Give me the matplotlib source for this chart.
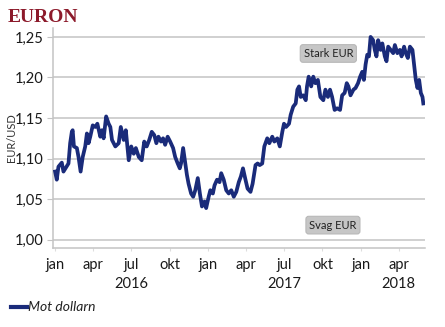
import numpy as np
import pandas as pd
import matplotlib
matplotlib.use('Agg')
import matplotlib.pyplot as plt
import matplotlib.dates as mdates

# days since 2016-01-01 and EUR/USD values
days = [0, 4, 8, 16, 20, 32, 36, 40, 42, 45, 52, 56, 61, 66, 72, 76, 80, 84, 90, 96,
        101, 108, 112, 116, 122, 128, 132, 136, 144, 152, 157, 164, 169, 176, 182, 188, 193, 200, 207, 213,
        219, 225, 231, 237, 242, 247, 253, 258, 263, 269, 275, 282, 287, 293, 298, 301, 306, 310, 315, 319,
        325, 330, 335, 341, 346, 351, 357, 361, 367, 371, 377, 381, 387, 393, 397, 403, 409, 415, 421, 427,
        433, 439, 444, 449, 455, 460, 467, 472, 479, 484, 489, 495, 500, 507, 512, 519, 524, 531, 537, 543,
        547, 552, 559, 563,
        569, 575, 579, 583, 587, 593, 599, 602, 606, 612, 617, 622, 628, 634, 641, 646, 652, 657, 662, 668,
        674, 681, 686, 692, 697, 701, 706, 713, 718, 724, 729, 734, 738, 742, 746, 750, 754, 760, 764, 768,
        772, 778, 782, 788, 792, 796, 802, 808, 812, 818, 824, 828, 834, 838, 843, 848, 854, 858, 862, 866,
        870, 874, 878, 880]
eurusd = [1.084, 1.074, 1.090, 1.095, 1.084, 1.094, 1.119, 1.133, 1.135, 1.115, 1.113, 1.102, 1.084, 1.102, 1.115, 1.131, 1.119, 1.127, 1.141, 1.139,
          1.143, 1.127, 1.135, 1.125, 1.152, 1.143, 1.139, 1.123, 1.115, 1.119, 1.139, 1.123, 1.135, 1.098, 1.115, 1.106, 1.113, 1.102, 1.098, 1.121,
          1.115, 1.123, 1.133, 1.129, 1.119, 1.127, 1.121, 1.125, 1.117, 1.127, 1.121, 1.113, 1.102, 1.094, 1.088, 1.094, 1.113, 1.098, 1.080, 1.069,
          1.057, 1.053, 1.061, 1.076, 1.057, 1.041, 1.047, 1.039, 1.053, 1.061, 1.057, 1.067, 1.074, 1.071, 1.082, 1.074, 1.061, 1.057, 1.061, 1.053,
          1.059, 1.071, 1.078, 1.088, 1.074, 1.063, 1.059, 1.069, 1.092, 1.094, 1.092, 1.094, 1.115, 1.125, 1.119, 1.127, 1.121, 1.125, 1.115, 1.133,
          1.143, 1.139, 1.143, 1.154,
          1.164, 1.168, 1.185, 1.189, 1.176, 1.178, 1.172, 1.189, 1.201, 1.189, 1.201, 1.193, 1.197, 1.176, 1.172, 1.185, 1.176, 1.185, 1.176, 1.160,
          1.162, 1.160, 1.178, 1.181, 1.193, 1.189, 1.178, 1.185, 1.187, 1.193, 1.201, 1.207, 1.197, 1.216, 1.228, 1.226, 1.250, 1.246, 1.234, 1.226,
          1.246, 1.234, 1.242, 1.226, 1.220, 1.238, 1.234, 1.230, 1.240, 1.230, 1.234, 1.226, 1.238, 1.230, 1.224, 1.238, 1.234, 1.216, 1.197, 1.187,
          1.197, 1.181, 1.176, 1.168]

yticks = [1.00, 1.05, 1.10, 1.15, 1.20, 1.25]
tick_dates = ['2016-01-01', '2016-04-01', '2016-07-01', '2016-10-01', '2017-01-01', '2017-04-01',
              '2017-07-01', '2017-10-01', '2018-01-01', '2018-04-01']
tick_labels = ['jan', 'apr', 'jul\n2016', 'okt', 'jan', 'apr', 'jul\n2017', 'okt', 'jan', 'apr\n2018']

line_color = '#1a2b7a'
grid_color = '#c4c4c4'
plt.rcParams['font.family'] = ['Lato', 'DejaVu Sans']

dates = pd.Timestamp('2016-01-01') + pd.to_timedelta(days, unit='D')

fig = plt.figure(figsize=(4.45, 3.27), dpi=100)
ax = fig.add_axes([53 / 445, 1 - 248 / 327, 372 / 445, 220 / 327])

ax.plot(dates, eurusd, color=line_color, lw=2.7, solid_joinstyle='round', zorder=3)

ax.set_ylim(0.9898, 1.261)
ax.set_xlim(pd.Timestamp('2015-12-27'), pd.Timestamp('2018-06-03'))
ax.set_yticks(yticks)
ax.set_yticklabels([('%.2f' % v).replace('.', ',') for v in yticks], fontsize=10.5, color='#1a1a1a')
ax.yaxis.grid(True, color=grid_color, lw=1.1)
ax.set_axisbelow(True)

ax.set_xticks(pd.to_datetime(tick_dates))
ax.set_xticklabels(tick_labels, fontsize=10.5, color='#1a1a1a', linespacing=1.45, va='top')
ax.tick_params(axis='x', length=2, color='#dddddd', pad=5)
ax.tick_params(axis='y', length=4, color=grid_color, pad=3)

for s in ['top', 'right']:
    ax.spines[s].set_visible(False)
for s in ['left', 'bottom']:
    ax.spines[s].set_color(grid_color)
    ax.spines[s].set_linewidth(1.1)

ax.set_ylabel('EUR/USD', fontsize=8, color='#333333')
ax.yaxis.set_label_coords(-0.097, 0.5)

box = dict(boxstyle='round,pad=0.3,rounding_size=0.25', fc='#c6c6c6', ec='#b8b8b8', lw=0.8)
ax.text(pd.Timestamp('2017-10-15'), 1.2296, 'Stark EUR', fontsize=8, ha='center', va='center',
        color='#222222', bbox=box, zorder=4)
ax.text(pd.Timestamp('2017-10-26'), 1.018, 'Svag EUR', fontsize=8, ha='center', va='center',
        color='#222222', bbox=box, zorder=4)

fig.text(8 / 445, 1 - 17 / 327, 'EURON', fontsize=14, fontweight='bold', color='#8c1a2b',
         family='Liberation Serif', va='center', ha='left')

fig.lines.append(plt.Line2D([11 / 445, 27 / 445], [1 - 307 / 327, 1 - 307 / 327],
                            color=line_color, lw=3, transform=fig.transFigure))
fig.text(28 / 445, 1 - 307 / 327, 'Mot dollarn', fontsize=10, style='italic', color='#222222',
         va='center', ha='left')

fig.savefig('out.png', dpi=100)
